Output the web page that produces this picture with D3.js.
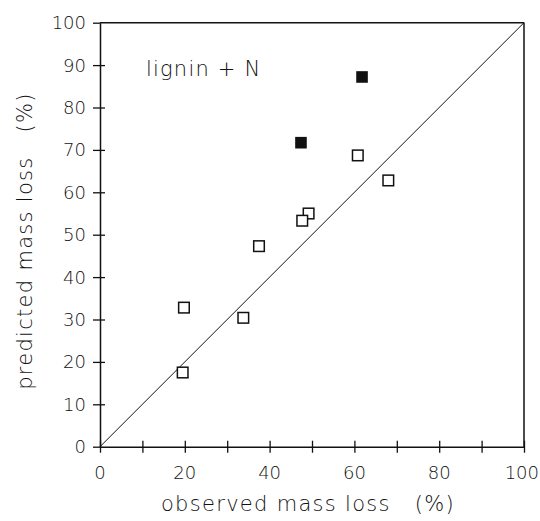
<!DOCTYPE html>
<html>
<head>
<meta charset="utf-8">
<script src="https://cdn.jsdelivr.net/npm/d3@7"></script>
<style>
  body { margin: 0; background: #fff; }
  svg text { font-family: "DejaVu Sans", sans-serif; font-weight: 200; fill: #111; }
</style>
</head>
<body>
<svg id="chart" width="540" height="521"></svg>
<script>
// observed vs predicted mass loss (%)
const openObserved = [60.8, 68.0, 49.2, 47.7, 37.5, 19.8, 33.8, 19.5];
const openPredicted = [68.7, 62.8, 55.0, 53.3, 47.3, 32.8, 30.4, 17.5];
const filledObserved = [61.8, 47.4];
const filledPredicted = [87.2, 71.7];
const tickValues = [0, 10, 20, 30, 40, 50, 60, 70, 80, 90, 100];
const xLabelValues = [0, 20, 40, 60, 80, 100];
const panelLabel = "lignin + N";

const svg = d3.select("#chart");
const x = d3.scaleLinear().domain([0, 100]).range([100, 524]);
const y = d3.scaleLinear().domain([0, 100]).range([446.7, 22.7]);

const ink = "#111";
const tickFont = "18px";
const titleFont = "21px";

//Frame: top and right lines
svg.append("line")
  .attr("x1", x(0)).attr("x2", x(100)).attr("y1", y(100)).attr("y2", y(100))
  .attr("stroke", ink).attr("stroke-width", 1.5);
svg.append("line")
  .attr("x1", x(100)).attr("x2", x(100)).attr("y1", y(100)).attr("y2", y(0))
  .attr("stroke", ink).attr("stroke-width", 1.5);

//x axis, ticks cross the line
const xAxis = svg.append("g")
  .attr("transform", `translate(0,${y(0)})`)
  .call(d3.axisBottom(x).tickValues(tickValues).tickSizeInner(6).tickSizeOuter(0).tickFormat(""));
xAxis.select(".domain").attr("stroke", ink).attr("stroke-width", 1.5);
xAxis.selectAll(".tick line").attr("y1", -6).attr("stroke", ink).attr("stroke-width", 1.3);

svg.append("g").selectAll("text")
  .data(xLabelValues)
  .join("text")
  .attr("x", d => d === 100 ? 539 : x(d))
  .attr("y", y(0) + 32)
  .attr("text-anchor", d => d === 100 ? "end" : "middle")
  .style("font-size", tickFont)
  .text(d => d);

//y axis
const yAxis = svg.append("g")
  .attr("transform", `translate(${x(0)},0)`)
  .call(d3.axisLeft(y).tickValues(tickValues).tickSizeInner(7).tickSizeOuter(0).tickFormat(""));
yAxis.select(".domain").attr("stroke", ink).attr("stroke-width", 1.5);
yAxis.selectAll(".tick line").attr("x1", 5).attr("stroke", ink).attr("stroke-width", 1.3);
yAxis.selectAll(".tick").filter(d => d === 0 || d === 100).select("line").attr("x1", 0);

svg.append("g").selectAll("text")
  .data(tickValues)
  .join("text")
  .attr("x", 86)
  .attr("y", d => y(d))
  .attr("dy", "0.36em")
  .attr("text-anchor", "end")
  .style("font-size", tickFont)
  .text(d => d);

//Axis titles
svg.append("text")
  .attr("x", 308)
  .attr("y", 511)
  .attr("text-anchor", "middle")
  .style("font-size", titleFont)
  .style("letter-spacing", "1.3px")
  .attr("xml:space", "preserve")
  .text("observed mass loss   (%)");

svg.append("text")
  .attr("transform", `translate(32,${y(48.5)}) rotate(-90)`)
  .attr("text-anchor", "middle")
  .style("font-size", titleFont)
  .style("letter-spacing", "1.3px")
  .attr("xml:space", "preserve")
  .text("predicted mass loss   (%)");

//Panel label
svg.append("text")
  .attr("x", 146)
  .attr("y", 76)
  .style("font-size", titleFont)
  .style("letter-spacing", "1.2px")
  .attr("xml:space", "preserve")
  .text(panelLabel);

//1:1 line
svg.append("line")
  .attr("x1", x(0)).attr("y1", y(0)).attr("x2", x(100)).attr("y2", y(100))
  .attr("stroke", ink).attr("stroke-width", 1);

//Points
const half = 5.3;
svg.append("g").selectAll("rect")
  .data(d3.zip(openObserved, openPredicted))
  .join("rect")
  .attr("x", d => x(d[0]) - half)
  .attr("y", d => y(d[1]) - half)
  .attr("width", half * 2)
  .attr("height", half * 2)
  .attr("fill", "#fff")
  .attr("stroke", ink)
  .attr("stroke-width", 1.5);

svg.append("g").selectAll("rect")
  .data(d3.zip(filledObserved, filledPredicted))
  .join("rect")
  .attr("x", d => x(d[0]) - half - 0.5)
  .attr("y", d => y(d[1]) - half - 0.5)
  .attr("width", half * 2 + 1)
  .attr("height", half * 2 + 1)
  .attr("fill", ink);
</script>
</body>
</html>
